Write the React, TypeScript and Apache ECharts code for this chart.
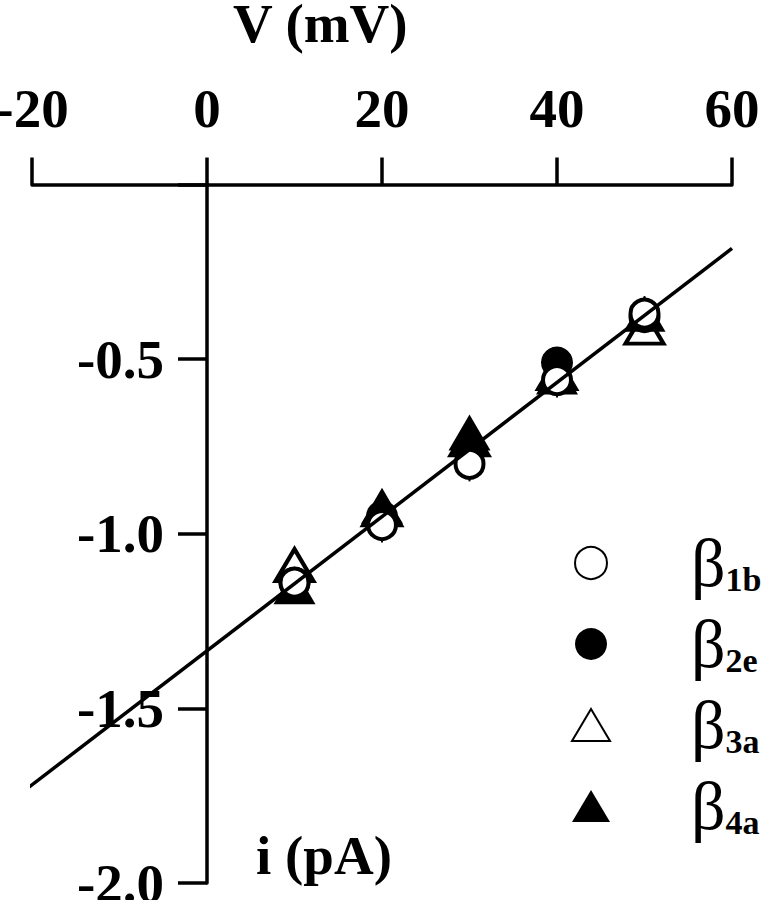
import React, { useEffect, useRef } from 'react';
import * as echarts from 'echarts';

// Voltage (mV) of the measured points
const voltages = [10, 20, 30, 40, 50];
// Single-channel current (pA) for each subunit combination
const beta1b = [-1.14, -0.975, -0.80, -0.56, -0.37];
const beta2e = [-1.14, -0.95, -0.76, -0.51, -0.38];
const beta3a = [-1.09, -0.93, -0.73, -0.54, -0.41];
const beta4a = [-1.15, -0.92, -0.71, -0.55, -0.37];
// small error bars (pA) of beta1b, hidden mostly inside the symbols
const beta1bErr = [0.05, 0.05, 0.05, 0.05, 0.05];
// linear fit endpoints
const fitV = [-20.6, 60];
const fitI = [-1.7305, -0.183];
// axis ranges
const xRange = [-20, 60];
const xStep = 20;
const yRange = [-2.0, 0];
const yStep = 0.5;

const seriesNames = ['β1b', 'β2e', 'β3a', 'β4a'];

const SERIF = '"Liberation Serif", "Times New Roman", serif';

const pairs = (ys: number[]) => voltages.map((v, i) => [v, ys[i]]);

export default function App() {
  const ref = useRef<HTMLDivElement>(null);
  useEffect(() => {
    if (!ref.current) return;
    const chart = echarts.init(ref.current, undefined, { renderer: 'svg' });
    const labelFont = { fontFamily: SERIF, fontWeight: 'bold' as const, fontSize: 55, color: '#000' };
    const gridLeft = 32;
    const gridRight = 32;
    const plotW = 764 - gridLeft - gridRight;
    // offset that puts the y axis at V = 0
    const yAxisOffset = -((0 - xRange[0]) / (xRange[1] - xRange[0])) * plotW;
    chart.setOption({
      animation: false,
      backgroundColor: '#fff',
      grid: { left: gridLeft, right: gridRight, top: 184.5, bottom: 17, containLabel: false, outerBoundsMode: 'none' },
      xAxis: {
        type: 'value',
        position: 'top',
        min: xRange[0],
        max: xRange[1],
        interval: xStep,
        axisLine: { onZero: false, lineStyle: { color: '#000', width: 3.5 } },
        axisTick: { length: 27, lineStyle: { color: '#000', width: 3.5 } },
        axisLabel: { ...labelFont, margin: 49, lineHeight: 55 },
        splitLine: { show: false },
      },
      yAxis: {
        type: 'value',
        position: 'left',
        offset: yAxisOffset,
        min: yRange[0],
        max: yRange[1],
        interval: yStep,
        axisLine: { show: true, onZero: false, lineStyle: { color: '#000', width: 3.5 } },
        axisTick: { show: true, length: 29, lineStyle: { color: '#000', width: 3.5 } },
        axisLabel: {
          ...labelFont,
          margin: 43,
          lineHeight: 55,
          formatter: (v: number) => (v === 0 ? '' : v.toFixed(1)),
        },
        splitLine: { show: false },
      },
      legend: {
        orient: 'vertical',
        left: 571,
        top: 529,
        padding: 0,
        itemGap: 13,
        itemWidth: 38,
        itemHeight: 32,
        selectedMode: false,
        data: seriesNames,
        formatter: (name: string) => `{b|β}{s|${name.slice(1)}}`,
        textStyle: {
          color: '#000',
          rich: {
            b: { fontFamily: SERIF, fontSize: 68, lineHeight: 66, padding: [0, 0, 0, 76], color: '#000' },
            s: { fontFamily: SERIF, fontWeight: 'bold', fontSize: 34, lineHeight: 10, verticalAlign: 'bottom', color: '#000' },
          },
        },
      },
      graphic: [
        {
          type: 'text',
          x: 233,
          y: 23,
          style: { text: 'V (mV)', fontFamily: SERIF, fontWeight: 'bold', fontSize: 55, fill: '#000', align: 'left', verticalAlign: 'middle' },
        },
        {
          type: 'text',
          x: 256,
          y: 855,
          style: { text: 'i (pA)', fontFamily: SERIF, fontWeight: 'bold', fontSize: 55, fill: '#000', align: 'left', verticalAlign: 'middle' },
        },
      ],
      series: [
        {
          name: 'β3a',
          type: 'scatter',
          symbol: 'triangle',
          symbolSize: [38, 32],
          itemStyle: { color: '#fff', borderColor: '#000', borderWidth: 4, opacity: 1 },
          data: pairs(beta3a),
        },
        {
          name: 'β4a',
          type: 'scatter',
          symbol: 'triangle',
          symbolSize: [42, 36],
          itemStyle: { color: '#000', opacity: 1 },
          data: pairs(beta4a),
        },
        {
          name: 'β2e',
          type: 'scatter',
          symbol: 'circle',
          symbolKeepAspect: true,
          symbolSize: 32,
          itemStyle: { color: '#000', opacity: 1 },
          data: pairs(beta2e),
        },
        {
          name: 'β1b',
          type: 'scatter',
          symbol: 'circle',
          symbolKeepAspect: true,
          symbolSize: 28,
          itemStyle: { color: '#fff', borderColor: '#000', borderWidth: 4, opacity: 1 },
          data: pairs(beta1b),
        },
        {
          name: 'err',
          type: 'custom',
          data: voltages.map((v, i) => [v, beta1b[i], beta1bErr[i]]),
          encode: { x: 0, y: 1 },
          renderItem: (_p: any, api: any) => {
            const x = api.value(0);
            const y = api.value(1);
            const e = api.value(2);
            const a = api.coord([x, y - e]);
            const b = api.coord([x, y + e]);
            return {
              type: 'line',
              shape: { x1: a[0], y1: a[1], x2: b[0], y2: b[1] },
              style: { stroke: '#000', lineWidth: 2 },
            };
          },
        },
        {
          name: 'fit',
          type: 'line',
          clip: false,
          showSymbol: false,
          symbol: 'none',
          lineStyle: { color: '#000', width: 3.5 },
          data: fitV.map((v, i) => [v, fitI[i]]),
        },
      ],
    });
    return () => chart.dispose();
  }, []);
  return <div ref={ref} style={{ position: 'absolute', left: 0, top: 0, width: 764, height: 900 }} />;
}
